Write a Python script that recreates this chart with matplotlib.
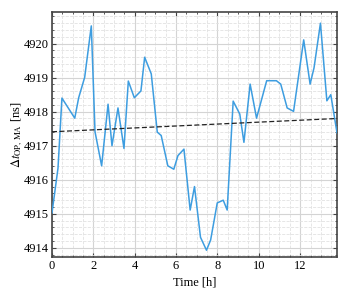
import numpy as np
import matplotlib
matplotlib.use("Agg")
import matplotlib.pyplot as plt
from matplotlib.ticker import MultipleLocator

# time stamps [h] and moving-average time difference [ns]
time_h = [0.00, 0.29, 0.48, 1.10, 1.29, 1.58, 1.90, 2.08, 2.40, 2.71, 2.90,
          3.19, 3.48, 3.69, 3.98, 4.30, 4.48, 4.80, 5.09, 5.28, 5.60, 5.89,
          6.09, 6.38, 6.68, 6.89, 7.18, 7.47, 7.67, 7.99, 8.28, 8.47, 8.76,
          9.08, 9.28, 9.58, 9.89, 10.38, 10.85, 11.06, 11.37, 11.68, 12.17,
          12.48, 12.67, 12.98, 13.29, 13.48, 13.78]
dt_ns = [4915.03, 4916.34, 4918.40, 4917.81, 4918.41, 4919.01, 4920.52,
         4917.41, 4916.41, 4918.22, 4917.00, 4918.11, 4916.92, 4918.90,
         4918.41, 4918.61, 4919.60, 4919.11, 4917.40, 4917.30, 4916.41,
         4916.31, 4916.71, 4916.90, 4915.11, 4915.80, 4914.31, 4913.93,
         4914.23, 4915.32, 4915.40, 4915.11, 4918.31, 4917.93, 4917.10,
         4918.81, 4917.81, 4918.91, 4918.91, 4918.81, 4918.11, 4918.01,
         4920.11, 4918.81, 4919.29, 4920.60, 4918.32, 4918.50, 4917.38]

# linear trend, end values
trend_t = [0.0, 13.78]
trend_v = [4917.41, 4917.80]

plt.rcParams.update({
    "font.family": "serif",
    "font.serif": ["Liberation Serif", "DejaVu Serif"],
    "mathtext.fontset": "stix",
    "font.size": 9,
    "xtick.direction": "in",
    "ytick.direction": "in",
    "xtick.top": True,
    "ytick.right": True,
    "xtick.minor.visible": True,
    "ytick.minor.visible": True,
    "xtick.major.size": 3,
    "ytick.major.size": 3,
    "xtick.minor.size": 1.5,
    "ytick.minor.size": 1.5,
    "axes.linewidth": 1.2,
})

fig = plt.figure(figsize=(3.49, 2.99), dpi=100)
ax = fig.add_axes([0.149, 0.1415, 0.8166, 0.8185])

ax.plot(time_h, dt_ns, color="#3d9de0", lw=1.1, zorder=3)
ax.plot(trend_t, trend_v, color="#222222", ls=(0, (4, 2)), lw=0.9, zorder=4)

ax.set_xlim(0, 13.78)
ax.set_ylim(4913.74, 4920.93)
ax.xaxis.set_major_locator(MultipleLocator(2))
ax.xaxis.set_minor_locator(MultipleLocator(0.5))
ax.yaxis.set_major_locator(MultipleLocator(1))
ax.yaxis.set_minor_locator(MultipleLocator(0.2))

ax.grid(which="major", color="#d4d4d4", lw=0.8, ls="-")
ax.grid(which="minor", color="#e2e2e2", lw=0.6, ls="--")
ax.set_axisbelow(True)
for s in ax.spines.values():
    s.set_color("#444444")
ax.tick_params(which="both", colors="#444444", labelcolor="black", pad=2.5)

ax.set_xlabel("Time [h]", labelpad=3)
ax.set_ylabel(r"$\Delta t_{\mathrm{OP,\,MA}}$ [ns]", labelpad=-1)

fig.savefig("out.png", dpi=100)
